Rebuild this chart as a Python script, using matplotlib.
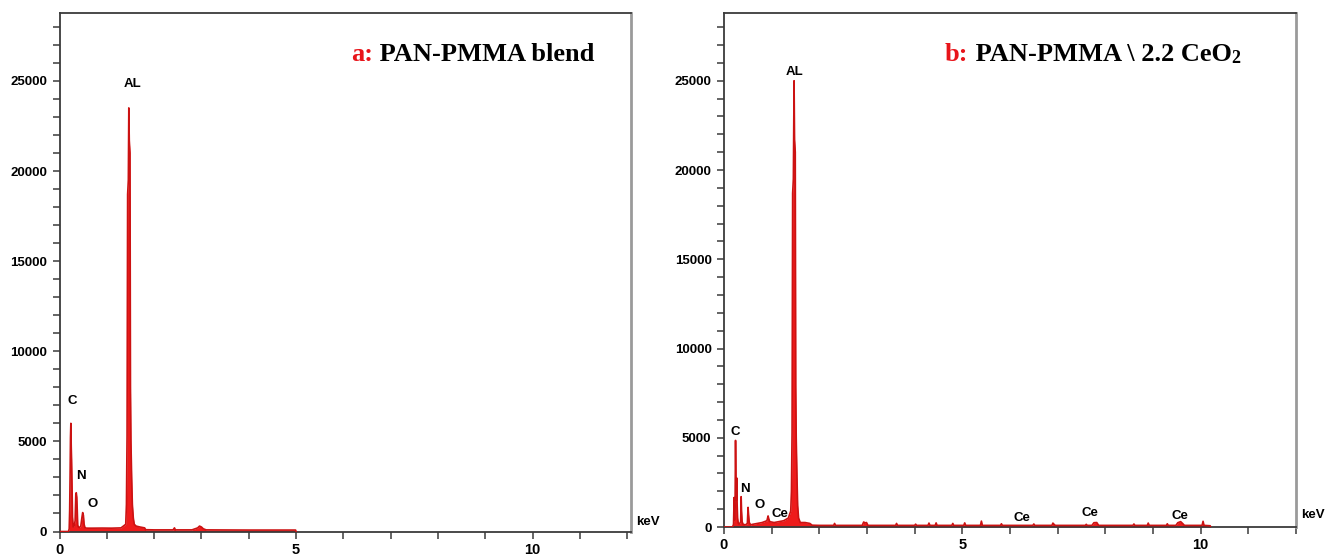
import matplotlib
matplotlib.use("Agg")
import matplotlib.pyplot as plt
from matplotlib.ticker import MultipleLocator
from matplotlib import font_manager

# ---------------- data ----------------
a_energy = [0.00, 0.19, 0.205, 0.215, 0.225, 0.232, 0.24, 0.248, 0.255, 0.265, 0.275, 0.29, 0.31,
            0.33, 0.345, 0.355, 0.365, 0.375, 0.385, 0.40, 0.42, 0.45, 0.475, 0.49, 0.505,
            0.52, 0.54, 0.56, 0.60, 0.70, 0.90, 1.10, 1.30, 1.40, 1.415, 1.428, 1.44, 1.455,
            1.465, 1.475, 1.49, 1.50, 1.51, 1.525, 1.54, 1.56, 1.58, 1.62, 1.70, 1.80, 1.82,
            2.00, 2.40, 2.43, 2.45, 2.80, 2.92, 2.96, 3.00, 3.04, 3.10, 3.50, 4.00, 4.50,
            4.99, 5.00]
a_counts = [0, 0, 150, 1200, 3400, 5200, 6000, 4700, 4000, 2500, 800, 250, 300,
            600, 2100, 2150, 1900, 1200, 350, 250, 220, 300, 800, 1050, 900,
            400, 200, 190, 185, 185, 190, 185, 200, 400, 1500, 5300, 18700, 19500,
            23500, 21700, 21000, 8000, 5000, 3000, 1500, 750, 400, 300, 250, 200, 100,
            90, 90, 200, 90, 90, 200, 300, 250, 150, 90, 85, 80, 80,
            80, 0]

b_energy = [0.00, 0.18, 0.20, 0.212, 0.222, 0.232, 0.242, 0.25, 0.258, 0.266, 0.274, 0.285,
            0.30, 0.32, 0.35, 0.36, 0.368, 0.38, 0.40, 0.45, 0.49, 0.505, 0.515, 0.53,
            0.56, 0.60, 0.70, 0.80, 0.90, 0.925, 0.94, 0.96, 1.05, 1.15, 1.25, 1.35,
            1.40, 1.415, 1.428, 1.44, 1.455, 1.47, 1.48, 1.495, 1.505, 1.515, 1.53, 1.545,
            1.565, 1.60, 1.70, 1.80, 1.85,
            2.00, 2.30, 2.32, 2.34, 2.90, 2.93, 2.96, 2.99, 3.02, 3.60, 3.62, 3.64,
            4.00, 4.02, 4.04, 4.28, 4.30, 4.32, 4.43, 4.45, 4.47, 4.78, 4.80, 4.82,
            5.03, 5.05, 5.07, 5.38, 5.40, 5.42, 5.80, 5.82, 5.84, 6.48, 6.50, 6.52,
            6.88, 6.90, 6.92, 6.95, 7.58, 7.60, 7.62, 7.72, 7.76, 7.82, 7.86, 8.58,
            8.60, 8.62, 8.88, 8.90, 8.92, 9.28, 9.30, 9.32, 9.48, 9.52, 9.58, 9.62,
            9.66, 10.03, 10.05, 10.07, 10.20, 10.21]
b_counts = [0, 0, 150, 1650, 400, 1200, 4850, 2800, 1500, 2750, 1400, 500,
            200, 150, 300, 1700, 900, 300, 150, 120, 200, 1100, 700, 250,
            120, 150, 200, 250, 350, 620, 450, 300, 250, 300, 350, 500,
            900, 2000, 5300, 18700, 19500, 25000, 21700, 21000, 7900, 5000, 2900, 1200,
            500, 250, 250, 200, 100,
            90, 90, 200, 90, 90, 280, 230, 250, 90, 90, 200, 90,
            90, 160, 90, 90, 220, 90, 90, 230, 90, 90, 200, 90,
            90, 230, 90, 90, 330, 90, 90, 180, 90, 90, 170, 90,
            90, 220, 160, 90, 90, 150, 90, 90, 240, 250, 90, 90,
            170, 90, 90, 220, 90, 90, 180, 90, 90, 240, 300, 200,
            90, 90, 320, 90, 70, 0]

a_labels = ["AL", "C", "N", "O"]
a_label_x = [1.55, 0.27, 0.45, 0.69]
a_label_y = [24820, 7250, 3100, 1520]

b_labels = ["AL", "C", "N", "O", "Ce", "Ce", "Ce", "Ce"]
b_label_x = [1.49, 0.24, 0.43, 0.74, 1.17, 6.26, 7.68, 9.56]
b_label_y = [25490, 5340, 2150, 1220, 710, 520, 800, 620]

x_major = 5
x_minor = 1
y_major = 5000
y_minor = 1000

# ---------------- fonts ----------------
avail = {f.name for f in font_manager.fontManager.ttflist}
tick_family = "Liberation Sans Narrow" if "Liberation Sans Narrow" in avail else "Liberation Sans"
label_family = "Liberation Sans"
title_family = "Liberation Serif"

RED_FILL = "#ee1b1b"
RED_EDGE = "#cc1212"

fig = plt.figure(figsize=(13.39, 5.6), dpi=100)
fig.patch.set_facecolor("white")

ax_a = fig.add_axes([59.5 / 1339, 1 - 531.5 / 560, (631 - 59.5) / 1339, (531.5 - 13.3) / 560])
ax_b = fig.add_axes([724 / 1339, 1 - 527 / 560, (1296 - 724) / 1339, (527 - 13.3) / 560])


def style_axes(ax, xmax, ymax):
    ax.set_xlim(0, xmax)
    ax.set_ylim(0, ymax)
    ax.xaxis.set_major_locator(MultipleLocator(x_major))
    ax.xaxis.set_minor_locator(MultipleLocator(x_minor))
    ax.yaxis.set_major_locator(MultipleLocator(y_major))
    ax.yaxis.set_minor_locator(MultipleLocator(y_minor))
    ax.tick_params(which="both", direction="out", length=5, width=1.1, color="#3a3a3a")
    ax.tick_params(axis="y", which="major", pad=4)
    ax.tick_params(axis="x", which="major", pad=3)
    for lab in ax.get_yticklabels():
        lab.set_fontfamily(tick_family)
        lab.set_fontweight("bold")
        lab.set_fontsize(9.5)
    for lab in ax.get_xticklabels():
        lab.set_fontfamily(tick_family)
        lab.set_fontweight("bold")
        lab.set_fontsize(10.5)
    for side in ["left", "bottom", "top"]:
        ax.spines[side].set_color("#3a3a3a")
        ax.spines[side].set_linewidth(1.3)
    ax.spines["right"].set_color("#9a9a9a")
    ax.spines["right"].set_linewidth(2.0)


def draw_spectrum(ax, energy, counts):
    ax.fill_between(energy, counts, 0, color=RED_FILL, linewidth=0, zorder=2)
    ax.plot(energy, counts, color=RED_EDGE, linewidth=1.2, zorder=3)


draw_spectrum(ax_a, a_energy, a_counts)
draw_spectrum(ax_b, b_energy, b_counts)
style_axes(ax_a, 12.08, 28750)
style_axes(ax_b, 12.0, 28780)

for ax, labs, lx, ly in [(ax_a, a_labels, a_label_x, a_label_y),
                         (ax_b, b_labels, b_label_x, b_label_y)]:
    for t, x, y in zip(labs, lx, ly):
        ax.text(x, y, t, ha="center", va="center", fontsize=9.5, fontweight="bold",
                family=label_family, color="black", zorder=4)

ax_a.text(12.43, 540, "keV", ha="center", va="center", fontsize=9.5, fontweight="bold",
          family=label_family, clip_on=False)
ax_b.text(12.36, 670, "keV", ha="center", va="center", fontsize=9.5, fontweight="bold",
          family=label_family, clip_on=False)

# titles
TS = 19
t1 = ax_a.text(0.5096, 0.9085, "a:", transform=ax_a.transAxes, ha="left", va="baseline",
               fontsize=TS, fontweight="bold", family=title_family, color="#e8141a")
ax_a.annotate(" PAN-PMMA blend", xy=(1, 0), xycoords=t1, ha="left", va="bottom",
              fontsize=TS, fontweight="bold", family=title_family, color="black")

t3 = ax_b.text(0.3864, 0.9077, "b:", transform=ax_b.transAxes, ha="left", va="baseline",
               fontsize=TS, fontweight="bold", family=title_family, color="#e8141a")
t4 = ax_b.annotate(" PAN-PMMA \\ 2.2 CeO", xy=(1, 0), xycoords=t3, ha="left", va="bottom",
                   fontsize=TS, fontweight="bold", family=title_family, color="black")
ax_b.annotate("2", xy=(1, 0), xycoords=t4, xytext=(0, -1), textcoords="offset points",
              ha="left", va="bottom", fontsize=13, fontweight="bold",
              family=title_family, color="black")

fig.savefig("out.png", dpi=100, facecolor="white")
